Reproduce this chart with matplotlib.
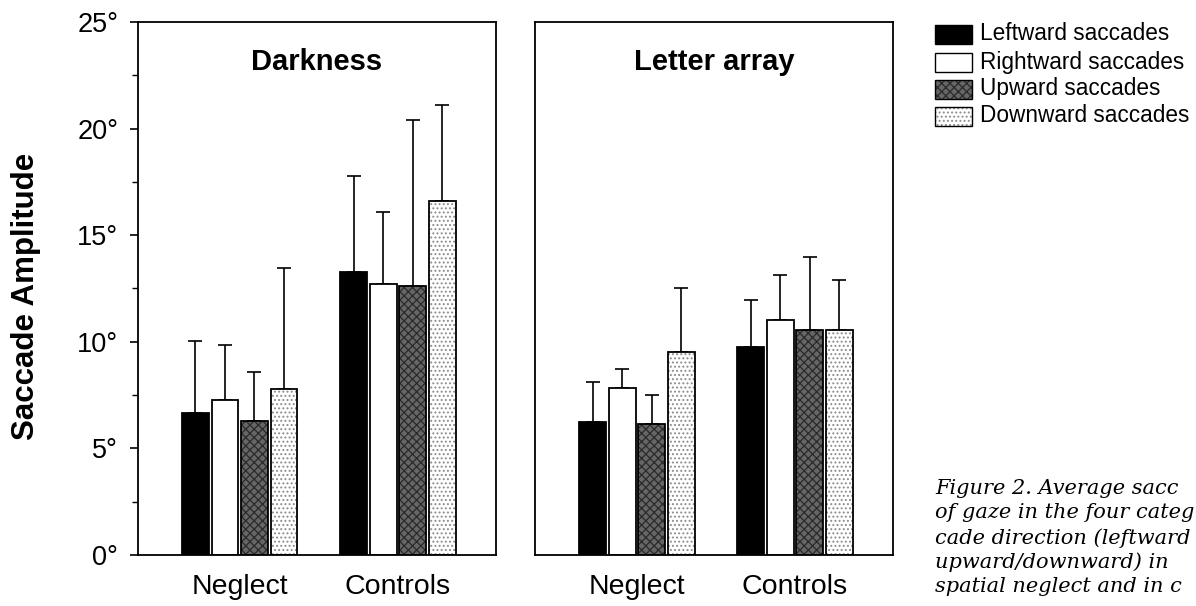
import numpy as np
import matplotlib
matplotlib.use("Agg")
import matplotlib.pyplot as plt
from matplotlib.patches import Rectangle

plt.rcParams['font.family'] = ['Liberation Sans', 'DejaVu Sans']
plt.rcParams['hatch.linewidth'] = 0.9

groups = ['Neglect', 'Controls']
directions = ['Leftward saccades', 'Rightward saccades', 'Upward saccades', 'Downward saccades']

# mean amplitude (deg) per direction, and SD (drawn upward only)
dark_neglect = [6.66, 7.29, 6.29, 7.80]
dark_neglect_sd = [3.40, 2.58, 2.27, 5.67]
dark_control = [13.29, 12.69, 12.60, 16.60]
dark_control_sd = [4.50, 3.40, 7.81, 4.53]

letter_neglect = [6.25, 7.85, 6.16, 9.51]
letter_neglect_sd = [1.88, 0.86, 1.36, 3.01]
letter_control = [9.75, 11.02, 10.53, 10.53]
letter_control_sd = [2.19, 2.11, 3.43, 2.39]

yticks = [0, 5, 10, 15, 20, 25]
ytick_labels = ['0°', '5°', '10°', '15°', '20°', '25°']

caption = ['Figure 2. Average sacc',
           'of gaze in the four categ',
           'cade direction (leftward',
           'upward/downward) in',
           'spatial neglect and in c']

# fill colour, hatch, hatch colour for each direction
styles = [('black', None, 'black'),
          ('white', None, 'white'),
          ('#666666', 'xxxx', '#2a2a2a'),
          ('white', '....', '#8c8c8c')]

width = 0.17
offsets = [-0.28, -0.093, 0.093, 0.28]


def draw_panel(ax, title, neglect, neglect_sd, control, control_sd):
    x = np.arange(len(groups))
    for i in range(4):
        vals = np.array([neglect[i], control[i]])
        err = np.array([neglect_sd[i], control_sd[i]])
        fc, hatch, hc = styles[i]
        xi = x + offsets[i]
        ax.bar(xi, vals, width, color=fc, hatch=hatch, edgecolor=hc, linewidth=0, zorder=2)
        ax.bar(xi, vals, width, fill=False, edgecolor='black', linewidth=1.3, zorder=3)
        ax.errorbar(xi, vals, yerr=[np.zeros(2), err], fmt='none', ecolor='black',
                    elinewidth=1.2, capsize=5, capthick=1.2, zorder=1)
    ax.set_xlim(-0.645, 1.62)
    ax.set_ylim(0, 25)
    ax.set_xticks(x)
    ax.set_xticklabels(groups, fontsize=20.5)
    ax.tick_params(axis='x', length=0, pad=14)
    ax.text(0.5, 0.952, title, transform=ax.transAxes, ha='center', va='top',
            fontsize=21, fontweight='bold')
    for s in ax.spines.values():
        s.set_linewidth(1.3)


fig = plt.figure(figsize=(11.96, 6.06), dpi=100)
ax1 = fig.add_axes([0.1151, 0.0842, 0.2996, 0.8795])
ax2 = fig.add_axes([0.4473, 0.0842, 0.2993, 0.8795])

draw_panel(ax1, 'Darkness', dark_neglect, dark_neglect_sd, dark_control, dark_control_sd)
draw_panel(ax2, 'Letter array', letter_neglect, letter_neglect_sd, letter_control, letter_control_sd)

ax1.set_yticks(yticks)
ax1.set_yticklabels(ytick_labels, fontsize=19.5)
ax1.set_yticks(np.arange(2.5, 25, 5), minor=True)
ax1.tick_params(axis='y', which='major', length=6, width=1.2, pad=8)
ax1.tick_params(axis='y', which='minor', length=4, width=1.0)
ax1.set_ylabel('Saccade Amplitude', fontsize=22.5, fontweight='bold')
ax1.yaxis.set_label_coords(-0.27, 0.485)
ax2.set_yticks([])

# legend drawn by hand next to the panels
row_y = [34, 62, 89, 116]
for i, label in enumerate(directions):
    fc, hatch, hc = styles[i]
    yc = 1 - row_y[i] / 606
    h = 19 / 606
    x0, w = 935 / 1196, 37 / 1196
    fig.add_artist(Rectangle((x0, yc - h / 2), w, h, transform=fig.transFigure,
                             facecolor=fc, hatch=hatch, edgecolor=hc, linewidth=0))
    fig.add_artist(Rectangle((x0, yc - h / 2), w, h, transform=fig.transFigure,
                             fill=False, edgecolor='black', linewidth=1.0))
    fig.text(980 / 1196, yc, label, fontsize=16.3, va='center', ha='left')

# figure caption lines
cap_y = [489, 513, 538, 562, 586]
for line, yy in zip(caption, cap_y):
    fig.text(935 / 1196, 1 - yy / 606, line, fontsize=15, style='italic',
             family='DejaVu Serif', va='center', ha='left')

fig.savefig('out.png', dpi=100)
